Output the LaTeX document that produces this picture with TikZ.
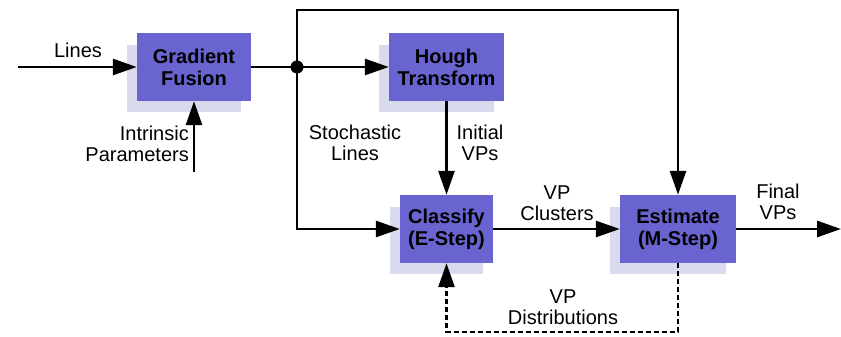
\documentclass[tikz,border=0pt]{standalone}
\usepackage{fontspec}
\setmainfont{Liberation Sans}
\usetikzlibrary{arrows.meta}
\definecolor{boxblue}{RGB}{106,100,208}
\definecolor{shadowc}{RGB}{218,218,238}
\tikzset{
  blk/.style={fill=boxblue, minimum height=68pt, inner sep=0pt, align=center, font=\fontsize{20}{22}\selectfont\bfseries},
  lbl/.style={align=center, font=\fontsize{20}{21}\selectfont, inner sep=0pt},
  conn/.style={line width=2.8pt, -{Triangle[length=24pt,width=16pt]}},
  plain/.style={line width=2.8pt}
}
\begin{document}
\begin{tikzpicture}[x=1pt,y=-1pt]
\useasboundingbox (0,0) rectangle (841,337);
% shadows
\fill[shadowc] (127,45) rectangle (241,112);
\fill[shadowc] (379,45) rectangle (494,112);
\fill[shadowc] (390,207) rectangle (483,274);
\fill[shadowc] (610,207) rectangle (726,274);
% blocks
\node[blk, minimum width=114pt] (gf) at (194,67) {Gradient\\Fusion};
\node[blk, minimum width=115pt] (ht) at (446.5,67) {Hough\\Transform};
\node[blk, minimum width=93pt] (cl) at (446.5,229) {Classify\\(E-Step)};
\node[blk, minimum width=116pt] (es) at (678,229) {Estimate\\(M-Step)};
% coordinates
\coordinate (in) at (18,67);
\coordinate (j) at (297,67);
\coordinate (top) at (297,10);
\coordinate (ip) at (194,172);
\coordinate (out) at (841,229);
\coordinate (db) at (678,332);
% connectors
\draw[conn] (in) -- (gf.west);
\draw[plain] (gf.east) -- (j);
\draw[conn] (j) -- (ht.west);
\draw[conn] (j) |- (cl.west);
\draw[conn] (j) -- (top) -| (es.north);
\draw[conn] (ip) -- (gf.south);
\draw[conn] (ht.south) -- (cl.north);
\draw[conn] (cl.east) -- (es.west);
\draw[conn] (es.east) -- (out);
\draw[conn, dash pattern=on 5pt off 3pt] (es.south) -- (db) -| (cl.south);
\fill (j) circle (6.5pt);
% labels
\node[lbl] (l1) at (78,50) {Lines};
\node[lbl, align=right, anchor=east] (l2) at (189,144) {Intrinsic\\Parameters};
\node[lbl] (l3) at (355,143) {Stochastic\\Lines};
\node[lbl] (l4) at (480,143) {Initial\\VPs};
\node[lbl] (l5) at (557,203) {VP\\Clusters};
\node[lbl] (l6) at (778,202) {Final\\VPs};
\node[lbl] (l7) at (563,307) {VP\\Distributions};
\end{tikzpicture}
\end{document}
